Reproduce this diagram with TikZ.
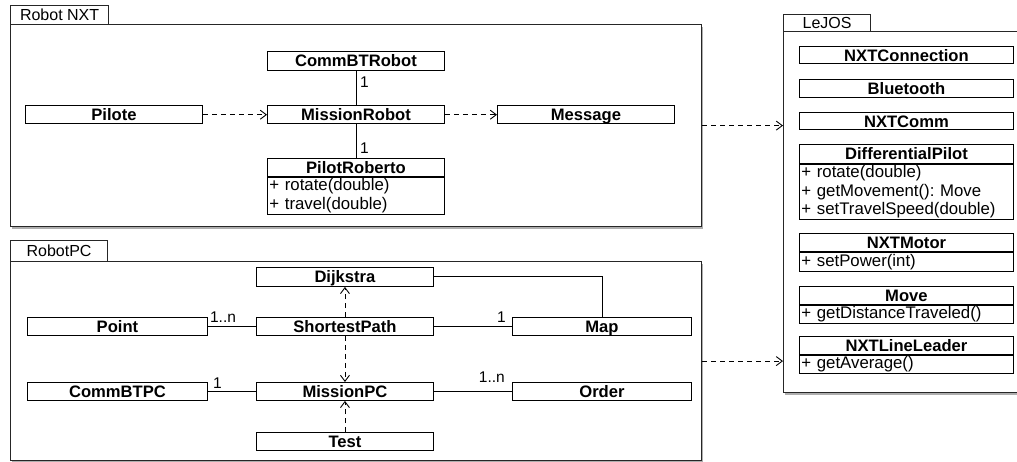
\documentclass[tikz,border=0pt]{standalone}
\usepackage{fontspec}
\setmainfont{Liberation Sans}
\usetikzlibrary{arrows.meta,shadows}
\frenchspacing

\begin{document}
\begin{tikzpicture}[x=1pt,y=-1pt,
  cls/.style={draw, line width=0.9pt, fill=white, anchor=north west, inner sep=0pt,
    text height=11.8pt, text depth=0pt, font=\fontsize{16.6}{18}\selectfont\bfseries},
  meth/.style={draw, line width=0.9pt, fill=white, anchor=north west, inner xsep=2pt, inner ysep=0pt,
    align=left, font=\fontsize{16.8}{18.5}\selectfont},
  pkgbody/.style={draw=black!85, line width=1.2pt, fill=white, anchor=north west, inner sep=0pt,
    drop shadow={shadow xshift=1.5pt, shadow yshift=-2pt, fill=black!45, opacity=0.7}},
  pkgtab/.style={draw=black!85, line width=1.2pt, fill=white, anchor=north west, inner sep=0pt,
    text height=11.5pt, text depth=0pt, font=\fontsize{16}{18}\selectfont},
  lbl/.style={inner sep=0pt, font=\fontsize{15.5}{18}\selectfont},
  dep/.style={dashed, dash pattern=on 5pt off 4pt, line width=0.9pt, -{Straight Barb[length=6pt,width=9pt]}},
  assoc/.style={line width=0.9pt}
]
\useasboundingbox (0,0) rectangle (1017,462);
\clip (0,0) rectangle (1017,462);

% ---------------- Robot NXT package
\node[pkgtab, minimum width=98pt, minimum height=19pt] (nxttab) at (10,5) {Robot NXT};
\node[pkgbody, minimum width=691pt, minimum height=202pt] (nxt) at (10,24) {};

\node[cls, minimum width=177pt, minimum height=19pt] (commbt) at (267,51) {CommBTRobot};
\node[cls, minimum width=177pt, minimum height=18.5pt] (pilote) at (25,105) {Pilote};
\node[cls, minimum width=177pt, minimum height=18.5pt] (mission) at (267,105) {MissionRobot};
\node[cls, minimum width=177pt, minimum height=18.5pt] (message) at (497,105) {Message};
\node[cls, minimum width=177pt, minimum height=18pt] (pilotr) at (267,158) {PilotRoberto};
\node[meth, text width=173pt, minimum height=37pt] (pilotrm) at (pilotr.south west) {+ rotate(double)\\+ travel(double)};

\draw[assoc] (commbt.south) -- (mission.north);
\draw[assoc] (mission.south) -- (pilotr.north);
\node[lbl, anchor=north west, xshift=4pt, yshift=-6pt] (l1) at (commbt.south) {1};
\node[lbl, anchor=south west, xshift=4pt, yshift=4pt] (l2) at (pilotr.north) {1};
\draw[dep] (pilote.east) -- (mission.west);
\draw[dep] (mission.east) -- (message.west);

% ---------------- RobotPC package
\node[pkgtab, minimum width=97pt, minimum height=21pt] (pctab) at (10,240) {RobotPC};
\node[pkgbody, minimum width=691pt, minimum height=199pt] (pc) at (10,261) {};

\node[cls, minimum width=177pt, minimum height=19pt] (dijkstra) at (256,267) {Dijkstra};
\node[cls, minimum width=180pt, minimum height=18pt] (point) at (27,317) {Point};
\node[cls, minimum width=177pt, minimum height=18pt] (shortest) at (256,317) {ShortestPath};
\node[cls, minimum width=179pt, minimum height=18pt] (map) at (512,317) {Map};
\node[cls, minimum width=180pt, minimum height=18pt] (commbtpc) at (27,382) {CommBTPC};
\node[cls, minimum width=177pt, minimum height=18pt] (missionpc) at (256,382) {MissionPC};
\node[cls, minimum width=179pt, minimum height=18pt] (order) at (512,382) {Order};
\node[cls, minimum width=177pt, minimum height=18pt] (test) at (256,432) {Test};

\draw[assoc] (point.east) -- (shortest.west);
\draw[assoc] (shortest.east) -- (map.west);
\draw[assoc] (commbtpc.east) -- (missionpc.west);
\draw[assoc] (missionpc.east) -- (order.west);
\draw[assoc] (dijkstra.east) -| (map.north);
\node[lbl, anchor=south west, xshift=2pt, yshift=4pt] (l3) at (point.east) {1..n};
\node[lbl, anchor=south east, xshift=-6pt, yshift=4pt] (l4) at (map.west) {1};
\node[lbl, anchor=south west, xshift=5pt, yshift=3pt] (l5) at (commbtpc.east) {1};
\node[lbl, anchor=south east, xshift=-7pt, yshift=9pt] (l6) at (order.west) {1..n};
\draw[dep] (shortest.north) -- (dijkstra.south);
\draw[dep] (shortest.south) -- (missionpc.north);
\draw[dep] (test.north) -- (missionpc.south);

% ---------------- LeJOS package
\node[pkgtab, minimum width=87pt, minimum height=17pt] (lejostab) at (783,14) {LeJOS};
\node[pkgbody, minimum width=245pt, minimum height=361pt] (lejos) at (783,31) {};

\node[cls, minimum width=214pt, minimum height=17.5pt] (nxtconn) at (799,46) {NXTConnection};
\node[cls, minimum width=214pt, minimum height=18pt] (bt) at (799,79) {Bluetooth};
\node[cls, minimum width=214pt, minimum height=17.5pt] (nxtcomm) at (799,112) {NXTComm};
\node[cls, minimum width=214pt, minimum height=19pt] (diff) at (799,144) {DifferentialPilot};
\node[meth, text width=210pt, minimum height=55.5pt] (diffm) at (diff.south west) {+ rotate(double)\\+ getMovement(): Move\\+ setTravelSpeed(double)};
\node[cls, minimum width=214pt, minimum height=18.5pt] (motor) at (799,233) {NXTMotor};
\node[meth, text width=210pt, minimum height=18.5pt] (motorm) at (motor.south west) {+ setPower(int)};
\node[cls, minimum width=214pt, minimum height=18pt] (move) at (799,286) {Move};
\node[meth, text width=210pt, minimum height=18pt] (movem) at (move.south west) {+ getDistanceTraveled()};
\node[cls, minimum width=214pt, minimum height=18pt] (lineleader) at (799,336) {NXTLineLeader};
\node[meth, text width=210pt, minimum height=18pt] (lineleaderm) at (lineleader.south west) {+ getAverage()};

% ---------------- package dependencies
\draw[dep] (nxt.east) -- (nxt.east -| lejos.west);
\draw[dep] (pc.east) -- (pc.east -| lejos.west);
\end{tikzpicture}
\end{document}
